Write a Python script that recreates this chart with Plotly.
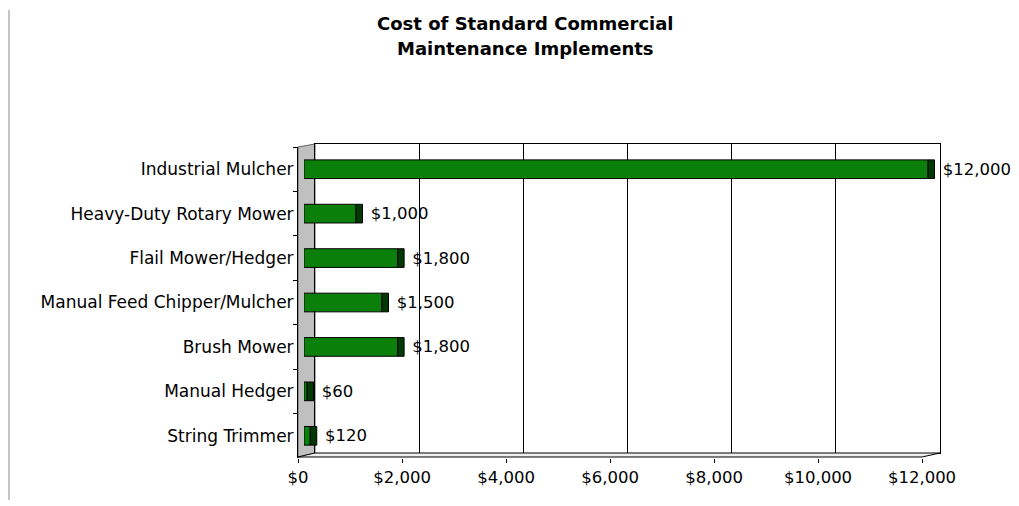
import plotly.graph_objects as go

W, H = 1019, 506

# Chart data
categories = [
    "Industrial Mulcher",
    "Heavy-Duty Rotary Mower",
    "Flail Mower/Hedger",
    "Manual Feed Chipper/Mulcher",
    "Brush Mower",
    "Manual Hedger",
    "String Trimmer",
]
costs = [12000, 1000, 1800, 1500, 1800, 60, 120]
tick_values = [0, 2000, 4000, 6000, 8000, 10000, 12000]
tick_labels = ["$0", "$2,000", "$4,000", "$6,000", "$8,000", "$10,000", "$12,000"]
title_lines = ["Cost of Standard Commercial", "Maintenance Implements"]


def px(x):
    return x / W


def py(y):
    return 1 - y / H


FONT = "DejaVu Sans"
CAP_DEPTH = 125          # visible end face of each 3-D bar, in axis units
FRONT = "#0a800a"
SIDE = "#023802"
BAR_W = 0.42

fig = go.Figure()

# anchor trace so the back plane subplot is drawn
fig.add_trace(go.Scatter(x=[0, 12000], y=[0, 1], mode="markers",
                         marker=dict(opacity=0), hoverinfo="skip",
                         showlegend=False, xaxis="x", yaxis="y"))

# front face of each bar
fig.add_trace(go.Bar(
    y=categories, x=costs, orientation="h", width=BAR_W,
    marker=dict(color=FRONT, line=dict(color="black", width=1)),
    hoverinfo="skip", showlegend=False, xaxis="x3", yaxis="y2",
))

# darker end face sitting on top of each value, carrying the value label
# (a non-breaking space keeps the label a little away from the bar end)
fig.add_trace(go.Bar(
    y=categories, x=[CAP_DEPTH] * len(costs), base=costs, orientation="h",
    width=BAR_W,
    marker=dict(color=SIDE, line=dict(color="black", width=1)),
    text=[f"\u00a0${v:,}" for v in costs], textposition="outside",
    constraintext="none", cliponaxis=False,
    textfont=dict(family=FONT, size=16.5, color="black"),
    hoverinfo="skip", showlegend=False, xaxis="x3", yaxis="y2",
))

# anchor trace for the front value axis
fig.add_trace(go.Scatter(x=[0], y=[categories[0]], mode="markers",
                         marker=dict(opacity=0), hoverinfo="skip",
                         showlegend=False, xaxis="x2", yaxis="y2"))

shapes = [
    # page border line on the left
    dict(type="line", xref="paper", yref="paper",
         x0=px(9), x1=px(9), y0=py(10), y1=py(500),
         line=dict(color="#8a8a8a", width=1), layer="below"),
    # grey side wall
    dict(type="path", xref="paper", yref="paper",
         path=f"M {px(298)} {py(147)} L {px(315)} {py(144)} L {px(315)} {py(453)} "
              f"L {px(298)} {py(457)} Z",
         fillcolor="#c0c0c0", line=dict(color="#606060", width=1), layer="below"),
    # floor
    dict(type="path", xref="paper", yref="paper",
         path=f"M {px(298)} {py(457)} L {px(315)} {py(453)} L {px(940)} {py(453)} "
              f"L {px(922)} {py(457)} Z",
         fillcolor="#f0f0f0", line=dict(color="black", width=1), layer="above"),
]

annotations = [
    dict(text=f"<b>{line}</b>", x=px(525), y=py(yc), xref="paper", yref="paper",
         xanchor="center", yanchor="middle", showarrow=False,
         font=dict(family=FONT, size=18, color="black"))
    for line, yc in zip(title_lines, [24, 48])
]

fig.update_layout(
    template="none",
    width=W, height=H, autosize=False,
    margin=dict(l=0, r=0, t=0, b=0, pad=0),
    paper_bgcolor="white", plot_bgcolor="rgba(0,0,0,0)",
    barmode="overlay",
    showlegend=False,
    shapes=shapes,
    annotations=annotations,
    # back plane with the vertical gridlines
    xaxis=dict(domain=[px(315), px(940)], range=[0, 12000], tickvals=tick_values,
               showticklabels=False, ticks="", showgrid=True, gridcolor="black",
               gridwidth=1, zeroline=False, showline=True, mirror=True,
               linecolor="black", linewidth=1, anchor="y", fixedrange=True,
               automargin=False),
    yaxis=dict(domain=[py(453), py(144)], range=[0, 1], showticklabels=False,
               ticks="", showgrid=False, zeroline=False, showline=True,
               mirror=True, linecolor="black", linewidth=1, anchor="x",
               fixedrange=True, automargin=False),
    # front value axis with the dollar labels
    xaxis2=dict(domain=[px(298), px(922)], range=[0, 12000], tickvals=tick_values,
                ticktext=tick_labels, ticks="outside", ticklen=4,
                tickcolor="black", showgrid=False, zeroline=False,
                showline=False, anchor="y2", fixedrange=True, automargin=False,
                tickfont=dict(family=FONT, size=16.5, color="black")),
    # category axis on the front edge of the side wall
    yaxis2=dict(domain=[py(458), py(147)], type="category",
                categoryorder="array", categoryarray=categories,
                autorange="reversed", ticks="outside", tickson="boundaries",
                ticklen=4, tickcolor="black", showline=True, linecolor="black",
                linewidth=1, showgrid=False, zeroline=False, anchor="x2",
                fixedrange=True, automargin=False,
                tickfont=dict(family=FONT, size=17, color="black")),
    # axis that places the bars at mid depth between wall front and back
    xaxis3=dict(domain=[px(304), px(1019)], range=[0, 12000 * (1019 - 304) / 624],
                visible=False, anchor="y2", fixedrange=True, automargin=False),
)

fig.write_html("out.html")
